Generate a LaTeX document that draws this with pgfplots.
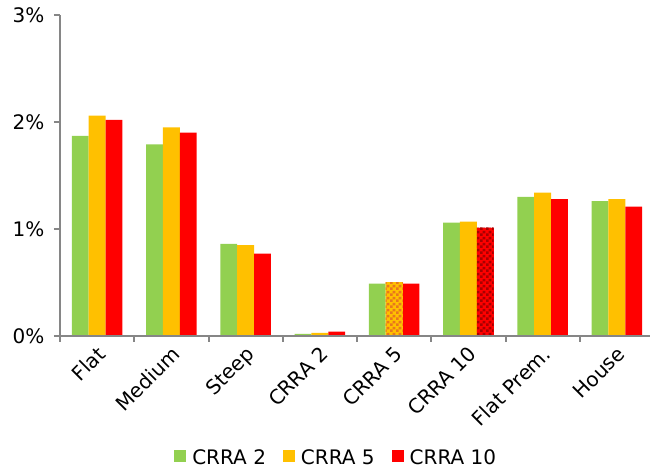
\documentclass[border=0pt]{standalone}
\usepackage{fontspec}
\setmainfont{DejaVu Sans}
\usepackage{pgfplots}
\pgfplotsset{compat=1.18}
\usetikzlibrary{patterns.meta}

\definecolor{cGreen}{HTML}{92D050}
\definecolor{cOrange}{HTML}{FFC000}
\definecolor{cRed}{HTML}{FF0000}
\definecolor{cOrangeDark}{HTML}{E8761E}
\definecolor{cRedDark}{HTML}{A80000}
\definecolor{axisgray}{HTML}{868686}

% small checkerboard used to highlight single bars
\tikzdeclarepattern{
  name=checks,
  type=uncolored,
  bounding box={(0pt,0pt) and (6pt,6pt)},
  tile size={(6pt,6pt)},
  code={
    \fill (0pt,0pt) rectangle (3pt,3pt);
    \fill (3pt,3pt) rectangle (6pt,6pt);
  }
}

\newcommand{\chartfont}{\fontsize{20}{24}\selectfont}

\begin{document}
\begin{tikzpicture}
\useasboundingbox (-60pt,-134pt) rectangle (590pt,336pt);
\begin{axis}[
  at={(0pt,0pt)}, anchor=south west,
  scale only axis, width=594pt, height=321pt,
  xmin=-0.5, xmax=7.5, ymin=0, ymax=3,
  axis x line=bottom, axis y line=left,
  axis line style={-, draw=axisgray, line width=2pt},
  axis on top,
  ybar, bar width=16.8pt,
  xtick={-0.5,0.5,...,7.5},
  xticklabels={Flat,Medium,Steep,CRRA 2,CRRA 5,CRRA 10,Flat Prem.,House,{}},
  xticklabel style={xshift=36pt, rotate=45, anchor=north east, inner sep=2pt},
  ytick={0,1,2,3},
  yticklabels={0\%,1\%,2\%,3\%},
  yticklabel style={xshift=-6pt},
  tick align=outside,
  major tick length=6pt,
  tick style={draw=axisgray, line width=2pt},
  every tick label/.append style={font=\chartfont, text=black},
  legend columns=3,
  legend style={at={(0.465,-0.38)}, anchor=center, draw=none, font=\chartfont,
    /tikz/every even column/.append style={column sep=15pt},
    /tikz/every odd column/.append style={column sep=4pt}},
  legend image code/.code={\fill[#1] (0pt,-4pt) rectangle (12pt,8pt);},
]
\addplot[fill=cGreen, draw=none, bar shift=-16.8pt] coordinates
  {(0,1.87) (1,1.79) (2,0.86) (3,0.02) (4,0.49) (5,1.06) (6,1.30) (7,1.26)};
\addplot[fill=cOrange, draw=none, bar shift=0pt] coordinates
  {(0,2.06) (1,1.95) (2,0.85) (3,0.03) (4,0.50) (5,1.07) (6,1.34) (7,1.28)};
\addplot[fill=cRed, draw=none, bar shift=16.8pt] coordinates
  {(0,2.02) (1,1.90) (2,0.77) (3,0.04) (4,0.49) (5,1.01) (6,1.28) (7,1.21)};
% checkered bars
\addplot[fill=cOrange, draw=none, bar shift=0pt, forget plot,
  postaction={pattern=checks, pattern color=cOrangeDark}] coordinates {(4,0.50)};
\addplot[fill=cRed, draw=none, bar shift=16.8pt, forget plot,
  postaction={pattern=checks, pattern color=cRedDark}] coordinates {(5,1.01)};
\legend{CRRA 2,CRRA 5,CRRA 10}
\end{axis}
\end{tikzpicture}
\end{document}
